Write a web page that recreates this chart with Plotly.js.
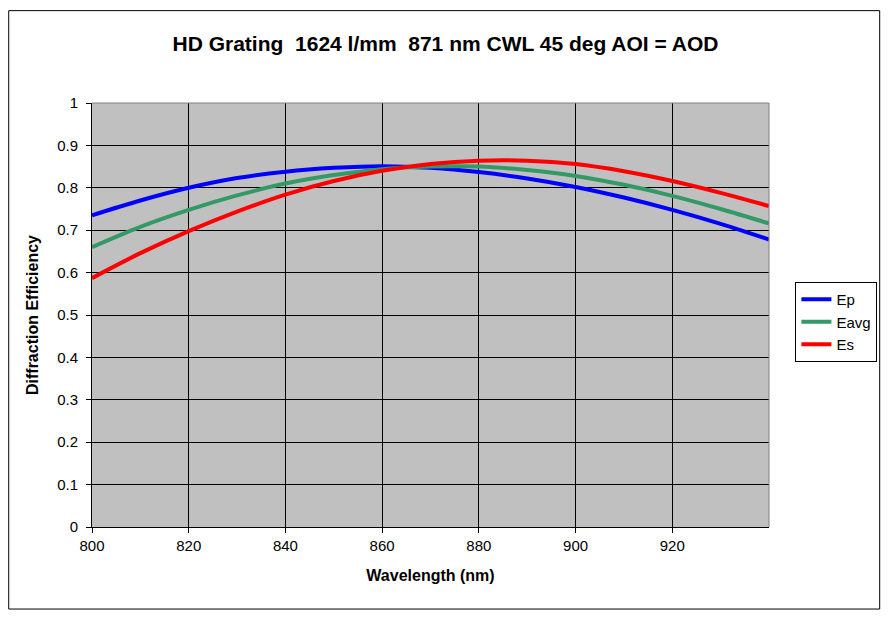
<!DOCTYPE html>
<html>
<head>
<meta charset="utf-8">
<script src="https://cdn.plot.ly/plotly-3.0.1.min.js"></script>
<style>
html,body{margin:0;padding:0;background:#fff;}
#chart{width:891px;height:626px;}
</style>
</head>
<body>
<div id="chart"></div>
<script>
const wavelength = [800, 810, 820, 830, 840, 850, 860, 870, 880, 890, 900, 910, 920, 930, 940];
const ep   = [0.735, 0.770, 0.800, 0.823, 0.838, 0.847, 0.851, 0.847, 0.837, 0.822, 0.802, 0.777, 0.748, 0.715, 0.678];
const eavg = [0.660, 0.708, 0.748, 0.782, 0.810, 0.830, 0.844, 0.850, 0.850, 0.842, 0.828, 0.807, 0.781, 0.750, 0.716];
const es   = [0.587, 0.646, 0.698, 0.744, 0.784, 0.816, 0.840, 0.856, 0.864, 0.864, 0.856, 0.839, 0.816, 0.788, 0.757];
const xTicks = [800, 820, 840, 860, 880, 900, 920];
const yTicks = [0, 0.1, 0.2, 0.3, 0.4, 0.5, 0.6, 0.7, 0.8, 0.9, 1];

const font = 'Liberation Sans, Arial, sans-serif';
function tr(name, y, color) {
  return {x: wavelength, y: y, name: name, type: 'scatter', mode: 'lines',
          line: {color: color, width: 4, shape: 'spline', smoothing: 1}};
}
const data = [tr('Ep', ep, '#0000FF'), tr('Eavg', eavg, '#339966'), tr('Es', es, '#FF0000')];

const layout = {
  width: 891, height: 626,
  margin: {l: 92, r: 122, t: 103, b: 99},
  paper_bgcolor: '#FFFFFF',
  plot_bgcolor: '#C0C0C0',
  font: {family: font, size: 15, color: '#000'},
  title: {text: 'HD Grating  1624 l/mm  871 nm CWL 45 deg AOI = AOD',
          font: {family: font, size: 21, color: '#000', weight: 'bold'},
          x: 0.5, xref: 'container', y: 0.93, yref: 'container', yanchor: 'middle'},
  xaxis: {range: [800, 940], tickvals: xTicks, ticktext: xTicks.map(String),
          showgrid: true, gridcolor: '#000', gridwidth: 1,
          showline: true, linecolor: '#000', linewidth: 1, mirror: false,
          ticks: 'outside', ticklen: 5, tickcolor: '#000', zeroline: false,
          tickfont: {family: font, size: 15},
          title: {text: 'Wavelength (nm)', font: {family: font, size: 16, weight: 'bold'}, standoff: 16}},
  yaxis: {range: [0, 1], tickvals: yTicks, ticktext: yTicks.map(String),
          showgrid: true, gridcolor: '#000', gridwidth: 1,
          showline: true, linecolor: '#000', linewidth: 1,
          ticks: 'outside', ticklen: 5, tickcolor: '#000', zeroline: false,
          ticklabelstandoff: 5,
          tickfont: {family: font, size: 15},
          title: {text: 'Diffraction Efficiency', font: {family: font, size: 16, weight: 'bold'}, standoff: 14}},
  legend: {x: 1.039, y: 0.578, xanchor: 'left', yanchor: 'top',
           bgcolor: '#FFFFFF', bordercolor: '#000', borderwidth: 1,
           font: {family: font, size: 15}, itemwidth: 30, tracegroupgap: 0},
  shapes: [
    {type: 'line', xref: 'paper', yref: 'paper', x0: 0, x1: 1, y0: 1, y1: 1, line: {color: '#808080', width: 1}},
    {type: 'line', xref: 'paper', yref: 'paper', x0: 1, x1: 1, y0: 0, y1: 1, line: {color: '#808080', width: 1}},
    {type: 'rect', xref: 'paper', yref: 'paper', x0: -0.1230, x1: 1.1635, y0: -0.1935, y1: 1.2178,
     line: {color: '#000', width: 1}, fillcolor: 'rgba(0,0,0,0)', layer: 'above'}
  ],
  showlegend: true
};
Plotly.newPlot('chart', data, layout, {displayModeBar: false, staticPlot: true});
</script>
</body>
</html>
